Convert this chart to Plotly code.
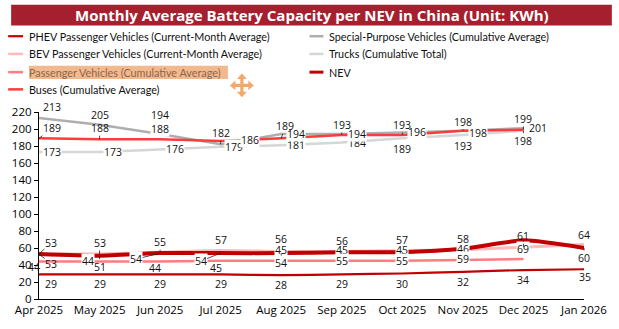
import plotly.graph_objects as go

# ---- data -------------------------------------------------------------
months = ["Apr 2025", "May 2025", "Jun 2025", "Jul 2025", "Aug 2025",
          "Sep 2025", "Oct 2025", "Nov 2025", "Dec 2025", "Jan 2026"]

phev_month = [29, 29, 29, 29, 28, 29, 30, 32, 34, 35]
bev_month = [53, 53, 55, 57, 56, 56, 57, 58, 61, 64]
passenger_cum = [44, 44, 44, 45, 45, 45, 45, 46, 47]
buses_cum = [189, 188, 188, 186, 189, 193, 193, 198, 199]
special_cum = [213, 205, 194, 182, 194, 194, 196, 198, 201]
trucks_total = [173, 173, 176, 179, 181, 184, 189, 193, 198]
nev = [53, 51, 54, 54, 54, 55, 55, 59, 69, 60]

title = "Monthly Average Battery Capacity per NEV in China (Unit: KWh)"

# ---- layout geometry (pixels) ----------------------------------------
W, H = 619, 329
PL, PR, PT, PB = 36, 584, 112, 302


def xp(x):
    return (x - PL) / (PR - PL)


def yp(y):
    return (PB - y) / (PB - PT)


FONT = "Open Sans"
LEGEND_FONT = "Lato"

# series: name, values, colour, width, shape
series = [
    ("PHEV Passenger Vehicles (Current-Month Average)", phev_month, "#C00000", 2.2, "spline"),
    ("Trucks (Cumulative Total)", trucks_total, "#D6D6D6", 2.5, "linear"),
    ("Special-Purpose Vehicles (Cumulative Average)", special_cum, "#AEAEAE", 2.5, "linear"),
    ("Buses (Cumulative Average)", buses_cum, "#FF3B3B", 2.5, "linear"),
    ("Passenger Vehicles (Cumulative Average)", passenger_cum, "#FF7C80", 2.5, "linear"),
    ("BEV Passenger Vehicles (Current-Month Average)", bev_month, "#FFB9B9", 3, "spline"),
    ("NEV", nev, "#C00000", 4, "spline"),
]

fig = go.Figure()
for name, vals, color, width, shape in series:
    fig.add_trace(go.Scatter(
        x=list(range(len(vals))), y=vals, mode="lines", name=name,
        line=dict(color=color, width=width, shape=shape, smoothing=0.6),
        showlegend=False, hoverinfo="skip",
    ))

# ---- data labels: (dx, dy, white box, leader line) per point ----------
placement = {
    "phev": [(12, 10, 0, 0)] + [(0, 10, 0, 0)] * 8 + [(1, 8, 0, 0)],
    "bev": [(12, -11, 0, 1), (0, -11, 0, 1), (0, -10, 0, 1), (0, -11, 0, 0),
            (0, -12, 0, 0), (0, -10, 0, 0), (0, -11, 0, 0), (0, -11, 0, 0),
            (0, -11, 0, 1), (0, -10, 0, 0)],
    "nev": [(12, 10, 0, 1), (0, 11, 0, 1), (-24, 6, 1, 1), (-20, 8, 1, 1),
            (0, 10, 1, 1), (0, 9, 1, 1), (0, 9, 1, 1), (0, 10, 1, 0),
            (0, 9, 1, 1), (0, 10, 0, 1)],
    "passenger": [(-5, 5, 0, 0), (-12, -1, 1, 0), (-5, 6, 0, 0), (-5, 7, 0, 0),
                  (0, -11, 1, 1), (0, -11, 1, 1), (0, -11, 1, 1), (0, -11, 1, 0)],
    "buses": [(13, -10, 0, 1), (0, -11, 0, 1), (0, -10, 1, 0), (29, -1, 1, 0),
              (4, -12, 0, 1), (0, -10, 0, 1), (0, -10, 0, 1), (0, -9, 0, 1),
              (0, -11, 0, 1)],
    "special": [(13, -11, 0, 0), (0, -10, 0, 0), (0, -19, 0, 1), (0, -11, 0, 1),
                (15, 0, 1, 0), (15, 0, 1, 0), (15, 0, 1, 0), (15, 2, 1, 0),
                (15, 0, 1, 0)],
    "trucks": [(13, 0, 1, 0), (13, 0, 1, 0), (15, 0, 1, 0), (13, 0, 1, 0),
               (15, 0, 1, 0), (15, 0, 1, 0), (0, 11, 0, 0), (0, 11, 0, 0),
               (0, 10, 0, 1)],
}
label_values = {
    "phev": phev_month, "bev": bev_month, "nev": nev,
    "passenger": passenger_cum, "buses": buses_cum,
    "special": special_cum, "trucks": trucks_total,
}
label_order = ["trucks", "special", "buses", "phev", "passenger", "nev", "bev"]

annotations = []
for key in label_order:
    for i, (v, (dx, dy, box, lead)) in enumerate(zip(label_values[key], placement[key])):
        a = dict(x=i, y=v, xref="x", yref="y", text=str(v),
                 xanchor="center", yanchor="middle",
                 font=dict(family=FONT, size=10.5, color="#111111"),
                 bgcolor="white" if box else "rgba(0,0,0,0)", borderpad=0)
        if lead:
            a.update(showarrow=True, ax=dx, ay=dy, arrowhead=0,
                     arrowwidth=0.8, arrowcolor="#222222", standoff=0)
        else:
            a.update(showarrow=False, xshift=dx, yshift=-dy)
        annotations.append(a)

# ---- title banner ------------------------------------------------------
shapes = [dict(type="rect", xref="paper", yref="paper",
               x0=xp(8), x1=xp(612), y0=yp(24), y1=yp(3),
               fillcolor="#A51F2F", line=dict(width=0), layer="below")]
annotations.append(dict(x=xp(310), y=yp(13.5), xref="paper", yref="paper",
                        xanchor="center", yanchor="middle",
                        text="<b>" + title + "</b>", showarrow=False,
                        font=dict(family=FONT, size=15, color="white")))

# ---- legend (two columns) ----------------------------------------------
legend_rows = [35, 53, 71.5, 89]
legend_items = [
    (0, 0, "PHEV Passenger Vehicles (Current-Month Average)", "#C00000", 2.2),
    (0, 1, "BEV Passenger Vehicles (Current-Month Average)", "#FFB9B9", 2.5),
    (0, 2, "Passenger Vehicles (Cumulative Average)", "#FF7C80", 2.5),
    (0, 3, "Buses (Cumulative Average)", "#FF3B3B", 2.5),
    (1, 0, "Special-Purpose Vehicles (Cumulative Average)", "#AEAEAE", 2.5),
    (1, 1, "Trucks (Cumulative Total)", "#D6D6D6", 2.5),
    (1, 2, "NEV", "#C00000", 3),
]
col_x = [(5, 20, 24), (308, 322, 326)]

# selection highlight on the third legend entry
shapes.append(dict(type="rect", xref="paper", yref="paper",
                   x0=xp(26), x1=xp(226), y0=yp(78.5), y1=yp(65),
                   fillcolor="#F3B98E", line=dict(width=0), layer="below"))

for col, row, name, color, width in legend_items:
    s0, s1, tx = col_x[col]
    yy = legend_rows[row]
    shapes.append(dict(type="line", xref="paper", yref="paper",
                       x0=xp(s0), x1=xp(s1), y0=yp(yy), y1=yp(yy),
                       line=dict(color=color, width=width)))
    highlighted = (col, row) == (0, 2)
    annotations.append(dict(x=xp(tx), y=yp(yy), xref="paper", yref="paper",
                            text=name, showarrow=False,
                            xanchor="left", yanchor="middle",
                            font=dict(family=LEGEND_FONT, size=10.8,
                                      color="#8A6650" if highlighted else "#111111")))

# four-way move cursor next to the highlighted entry
cx, cy, L, w, h, hl = 240, 85, 12, 1.6, 5, 5.5
pts = [
    (cx - w, cy - w), (cx - w, cy - L + hl), (cx - h, cy - L + hl), (cx, cy - L),
    (cx + h, cy - L + hl), (cx + w, cy - L + hl), (cx + w, cy - w),
    (cx + L - hl, cy - w), (cx + L - hl, cy - h), (cx + L, cy),
    (cx + L - hl, cy + h), (cx + L - hl, cy + w), (cx + w, cy + w),
    (cx + w, cy + L - hl), (cx + h, cy + L - hl), (cx, cy + L),
    (cx - h, cy + L - hl), (cx - w, cy + L - hl), (cx - w, cy + w),
    (cx - L + hl, cy + w), (cx - L + hl, cy + h), (cx - L, cy),
    (cx - L + hl, cy - h), (cx - L + hl, cy - w),
]
path = "M " + " L ".join(f"{xp(a):.5f},{yp(b):.5f}" for a, b in pts) + " Z"
shapes.append(dict(type="path", xref="paper", yref="paper", path=path,
                   fillcolor="#F2A86A", line=dict(width=0)))

fig.update_layout(
    width=W, height=H, autosize=False,
    margin=dict(l=PL, r=W - PR, t=PT, b=H - PB),
    paper_bgcolor="white", plot_bgcolor="white",
    showlegend=False,
    xaxis=dict(range=[0, 9], tickvals=list(range(len(months))), ticktext=months,
               showline=True, linecolor="black", linewidth=1.3, ticks="",
               showgrid=False, zeroline=False,
               tickfont=dict(family=FONT, size=11.5, color="black")),
    yaxis=dict(range=[0, 220], dtick=20, showline=True, linecolor="black",
               linewidth=1.3, ticks="outside", ticklen=4, tickcolor="black",
               showgrid=False, zeroline=False,
               tickfont=dict(family=FONT, size=11.5, color="black")),
    shapes=shapes,
    annotations=annotations,
)

fig.write_html("out.html")
